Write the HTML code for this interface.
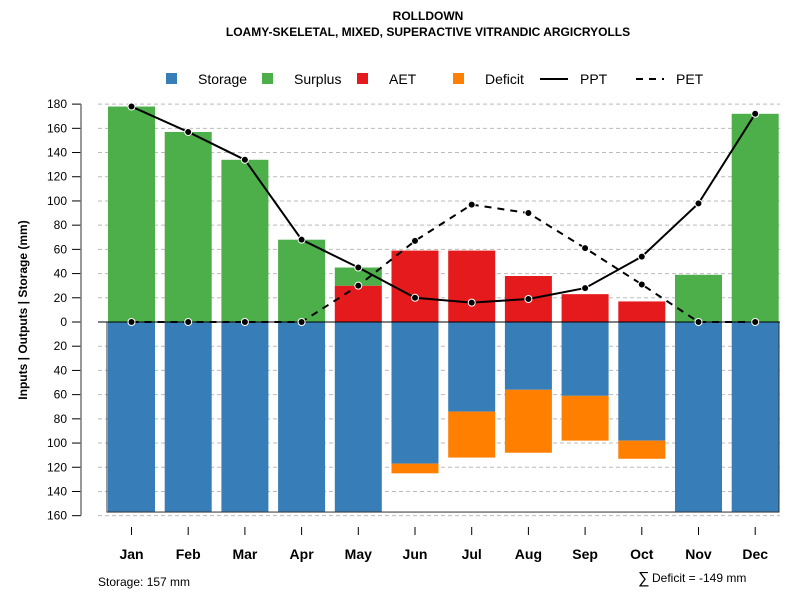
<!DOCTYPE html>
<html><head><meta charset="utf-8"><style>
body{margin:0;background:#fff;}
svg{font-family:"Liberation Sans",sans-serif;display:block;}
</style></head><body>
<svg id="chart" width="800" height="600">
<text x="428" y="20" text-anchor="middle" font-size="12" font-weight="bold">ROLLDOWN</text>
<text x="428" y="36" text-anchor="middle" font-size="12" font-weight="bold">LOAMY-SKELETAL, MIXED, SUPERACTIVE VITRANDIC ARGICRYOLLS</text>
<text transform="translate(27,310) rotate(-90)" text-anchor="middle" font-size="12" font-weight="bold">Inputs | Outputs | Storage    (mm)</text>
<text x="98" y="586" font-size="12">Storage: 157 mm</text>
<text x="638" y="583" font-size="16">∑</text>
<text x="652" y="582" font-size="12">Deficit = -149 mm</text>
<g id="legend">
<rect x="166" y="73" width="11" height="11" fill="#377eb8"/>
<text x="198" y="84" font-size="14">Storage</text>
<rect x="262" y="73" width="11" height="11" fill="#4daf4a"/>
<text x="294" y="84" font-size="14">Surplus</text>
<rect x="357" y="73" width="11" height="11" fill="#e41a1c"/>
<text x="389" y="84" font-size="14">AET</text>
<rect x="453" y="73" width="11" height="11" fill="#ff7f00"/>
<text x="485" y="84" font-size="14">Deficit</text>
<line x1="540" y1="79" x2="568" y2="79" stroke="#000" stroke-width="2"/>
<text x="580" y="84" font-size="14">PPT</text>
<line x1="636" y1="79" x2="664" y2="79" stroke="#000" stroke-width="2" stroke-dasharray="7,6"/>
<text x="676" y="84" font-size="14">PET</text>
</g>
</svg>
<script>
const months=["Jan","Feb","Mar","Apr","May","Jun","Jul","Aug","Sep","Oct","Nov","Dec"];
const storage=[157,157,157,157,157,117,74,56,61,98,157,157];
const deficit=[0,0,0,0,0,8,38,52,37,15,0,0];
const aet=[0,0,0,0,30,59,59,38,23,17,0,0];
const surplus=[178,157,134,68,15,0,0,0,0,0,39,172];
const ppt=[178,157,134,68,45,20,16,19,28,54,98,172];
const pet=[0,0,0,0,30,67,97,90,61,31,0,0];
const yTicks=[180,160,140,120,100,80,60,40,20,0,-20,-40,-60,-80,-100,-120,-140,-160];
const svg=document.getElementById('chart');
const NS='http://www.w3.org/2000/svg';
function y(v){return 322-v*1.2105;}
function x(i){return 131.5+i*56.7;}
const bw=47;
function mk(t,a){const e=document.createElementNS(NS,t);for(const k in a)e.setAttribute(k,a[k]);svg.appendChild(e);return e;}
// grid + axis
yTicks.forEach(t=>{
 if(t!==0){const g=mk('line',{x1:98,x2:780,y1:y(t),y2:y(t),stroke:'#bbb','stroke-dasharray':'4,3'});
 
 }
 const tk=mk('line',{x1:72,x2:81,y1:y(t),y2:y(t),stroke:'#000'});
 
 
 const l=mk('text',{x:67,y:y(t)+4,'text-anchor':'end','font-size':12});
 l.textContent=Math.abs(t);
 
 
});
const ax=mk('line',{x1:81,x2:81,y1:y(180),y2:y(-160),stroke:'#777','stroke-width':1.5});


// bars
months.forEach((m,i)=>{
 const bx=x(i)-bw/2;
 function bar(v0,v1,c,n){if(v0===v1)return;const r=mk('rect',{x:bx,y:y(Math.max(v0,v1)),width:bw,height:Math.abs(y(v0)-y(v1)),fill:c});
  
  }
 bar(0,-storage[i],'#377eb8','storage-bar-'+m.toLowerCase());
 bar(-storage[i],-storage[i]-deficit[i],'#ff7f00','deficit-bar-'+m.toLowerCase());
 bar(0,aet[i],'#e41a1c','aet-bar-'+m.toLowerCase());
 bar(aet[i],aet[i]+surplus[i],'#4daf4a','surplus-bar-'+m.toLowerCase());
 const tk=mk('line',{x1:x(i),x2:x(i),y1:527,y2:535,stroke:'#000'});
 
 
 const l=mk('text',{x:x(i),y:559,'text-anchor':'middle','font-size':14,'font-weight':'bold'});
 l.textContent=m;
 
 
});
const fr=mk('rect',{x:107,y:322,width:672,height:y(-157)-322,fill:'none',stroke:'#333','stroke-width':1});


const zl=mk('line',{x1:98,x2:780,y1:322,y2:322,stroke:'#000'});


function series(arr,dash,n){
 const p=mk('polyline',{points:arr.map((v,i)=>x(i)+','+y(v)).join(' '),fill:'none',stroke:'#000','stroke-width':2,'stroke-dasharray':dash});
 
 
 arr.forEach((v,i)=>{const c=mk('circle',{cx:x(i),cy:y(v),r:3.5,fill:'#000',stroke:'#fff','stroke-width':1});
  
  });
}
series(pet,'7,6','pet');
series(ppt,'none','ppt');
</script>
</body></html>
